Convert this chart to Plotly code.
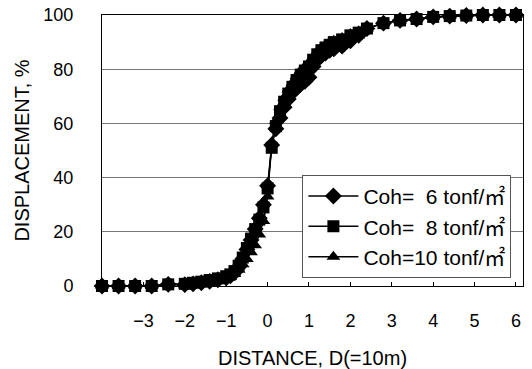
import plotly.graph_objects as go

# ---- data ----
tail_left_x = [-4.0, -3.6, -3.2, -2.8, -2.4]
tail_left_y = [0.0, 0.0, 0.0, 0.0, 0.6]
mid_x = [-2.0, -1.8, -1.6, -1.4, -1.2, -1.0, -0.9, -0.8, -0.7, -0.6, -0.5, -0.4, -0.3, -0.2, -0.1,
         0.0, 0.1, 0.2, 0.3, 0.4, 0.5, 0.6, 0.7, 0.8, 0.9, 1.0, 1.1, 1.2, 1.3, 1.4, 1.5, 1.6, 1.8,
         2.0, 2.2]
tail_right_x = [2.4, 2.8, 3.2, 3.6, 4.0, 4.4, 4.8, 5.2, 5.6, 6.0]
tail_right_y = [95.0, 97.0, 98.0, 98.5, 99.3, 99.6, 99.8, 100.0, 100.0, 100.0]

coh6_mid = [0.5, 0.8, 1.2, 1.7, 2.3, 3.0, 3.8, 5.0, 7.0, 10.0, 13.5, 17.0, 21.0, 25.0, 30.0,
            37.0, 52.0, 58.0, 62.0, 66.0, 69.0, 71.5, 73.0, 74.5, 75.5, 77.0, 81.0, 83.5, 85.0,
            86.0, 87.0, 87.5, 88.5, 90.5, 92.5]
coh8_mid = [0.8, 1.2, 1.6, 2.2, 2.8, 3.6, 4.3, 5.5, 7.5, 10.5, 14.0, 17.5, 21.0, 24.5, 29.0,
            36.0, 51.0, 59.0, 64.5, 68.0, 71.0, 73.5, 76.0, 78.0, 79.5, 81.0, 83.5, 85.5, 87.0,
            88.0, 89.0, 90.0, 91.0, 92.5, 93.5]
coh10_mid = [0.3, 0.6, 1.0, 1.5, 2.0, 2.8, 3.5, 4.5, 6.0, 8.0, 10.0, 12.5, 15.0, 19.0, 24.0,
             33.0, 53.0, 61.0, 66.0, 69.5, 72.5, 75.0, 77.5, 79.5, 81.0, 82.5, 84.5, 86.5, 88.0,
             89.0, 90.0, 90.5, 91.5, 93.0, 94.0]

names = ["Coh=  6 tonf/㎡", "Coh=  8 tonf/㎡", "Coh=10 tonf/㎡"]
series_mid = [coh6_mid, coh8_mid, coh10_mid]
symbols = ["diamond", "square", "triangle-up"]
sizes = [13, 12, 12]

x_ticks = [-3, -2, -1, 0, 1, 2, 3, 4, 5, 6]
y_ticks = [0, 20, 40, 60, 80, 100]

FONT = "Liberation Sans, Arial, Noto Sans CJK KR, sans-serif"

fig = go.Figure()
for name, mid, sym, sz in zip(names, series_mid, symbols, sizes):
    xs = tail_left_x + mid_x + tail_right_x
    ys = tail_left_y + mid + tail_right_y
    fig.add_trace(go.Scatter(
        x=xs, y=ys, name=name, mode="lines+markers",
        line=dict(color="black", width=1.5),
        marker=dict(symbol=sym, size=sz, color="black"),
        cliponaxis=False,
    ))

fig.update_layout(
    width=532, height=369,
    margin=dict(l=102, r=9, t=15, b=83, autoexpand=False),
    paper_bgcolor="white", plot_bgcolor="white",
    font=dict(family=FONT, size=18, color="black"),
    showlegend=True,
    legend=dict(
        x=0.476, y=0.41, xanchor="left", yanchor="top",
        bgcolor="white", bordercolor="#555", borderwidth=1,
        font=dict(size=21, family=FONT),
        itemwidth=50, valign="middle",
    ),
    xaxis=dict(
        range=[-4, 6.17], tickvals=x_ticks,
        ticktext=[("\u2212" + str(-v)) if v < 0 else str(v) for v in x_ticks],
        showgrid=False, zeroline=False, showline=True, linecolor="black", linewidth=1, mirror=True,
        ticks="inside", ticklen=4, tickcolor="black", ticklabelstandoff=18,
        tickfont=dict(size=18), automargin=False,
        title=dict(text="DISTANCE, D(=10m)", font=dict(size=20), standoff=22),
    ),
    yaxis=dict(
        range=[0, 100], tickvals=y_ticks,
        showgrid=True, gridcolor="#777", gridwidth=1, zeroline=False,
        showline=True, linecolor="black", linewidth=1, mirror=True,
        ticks="", ticklabelstandoff=24, tickfont=dict(size=18), automargin=False,
        title=dict(text="DISPLACEMENT, %", font=dict(size=20), standoff=8),
    ),
)

fig.write_html("out.html")
